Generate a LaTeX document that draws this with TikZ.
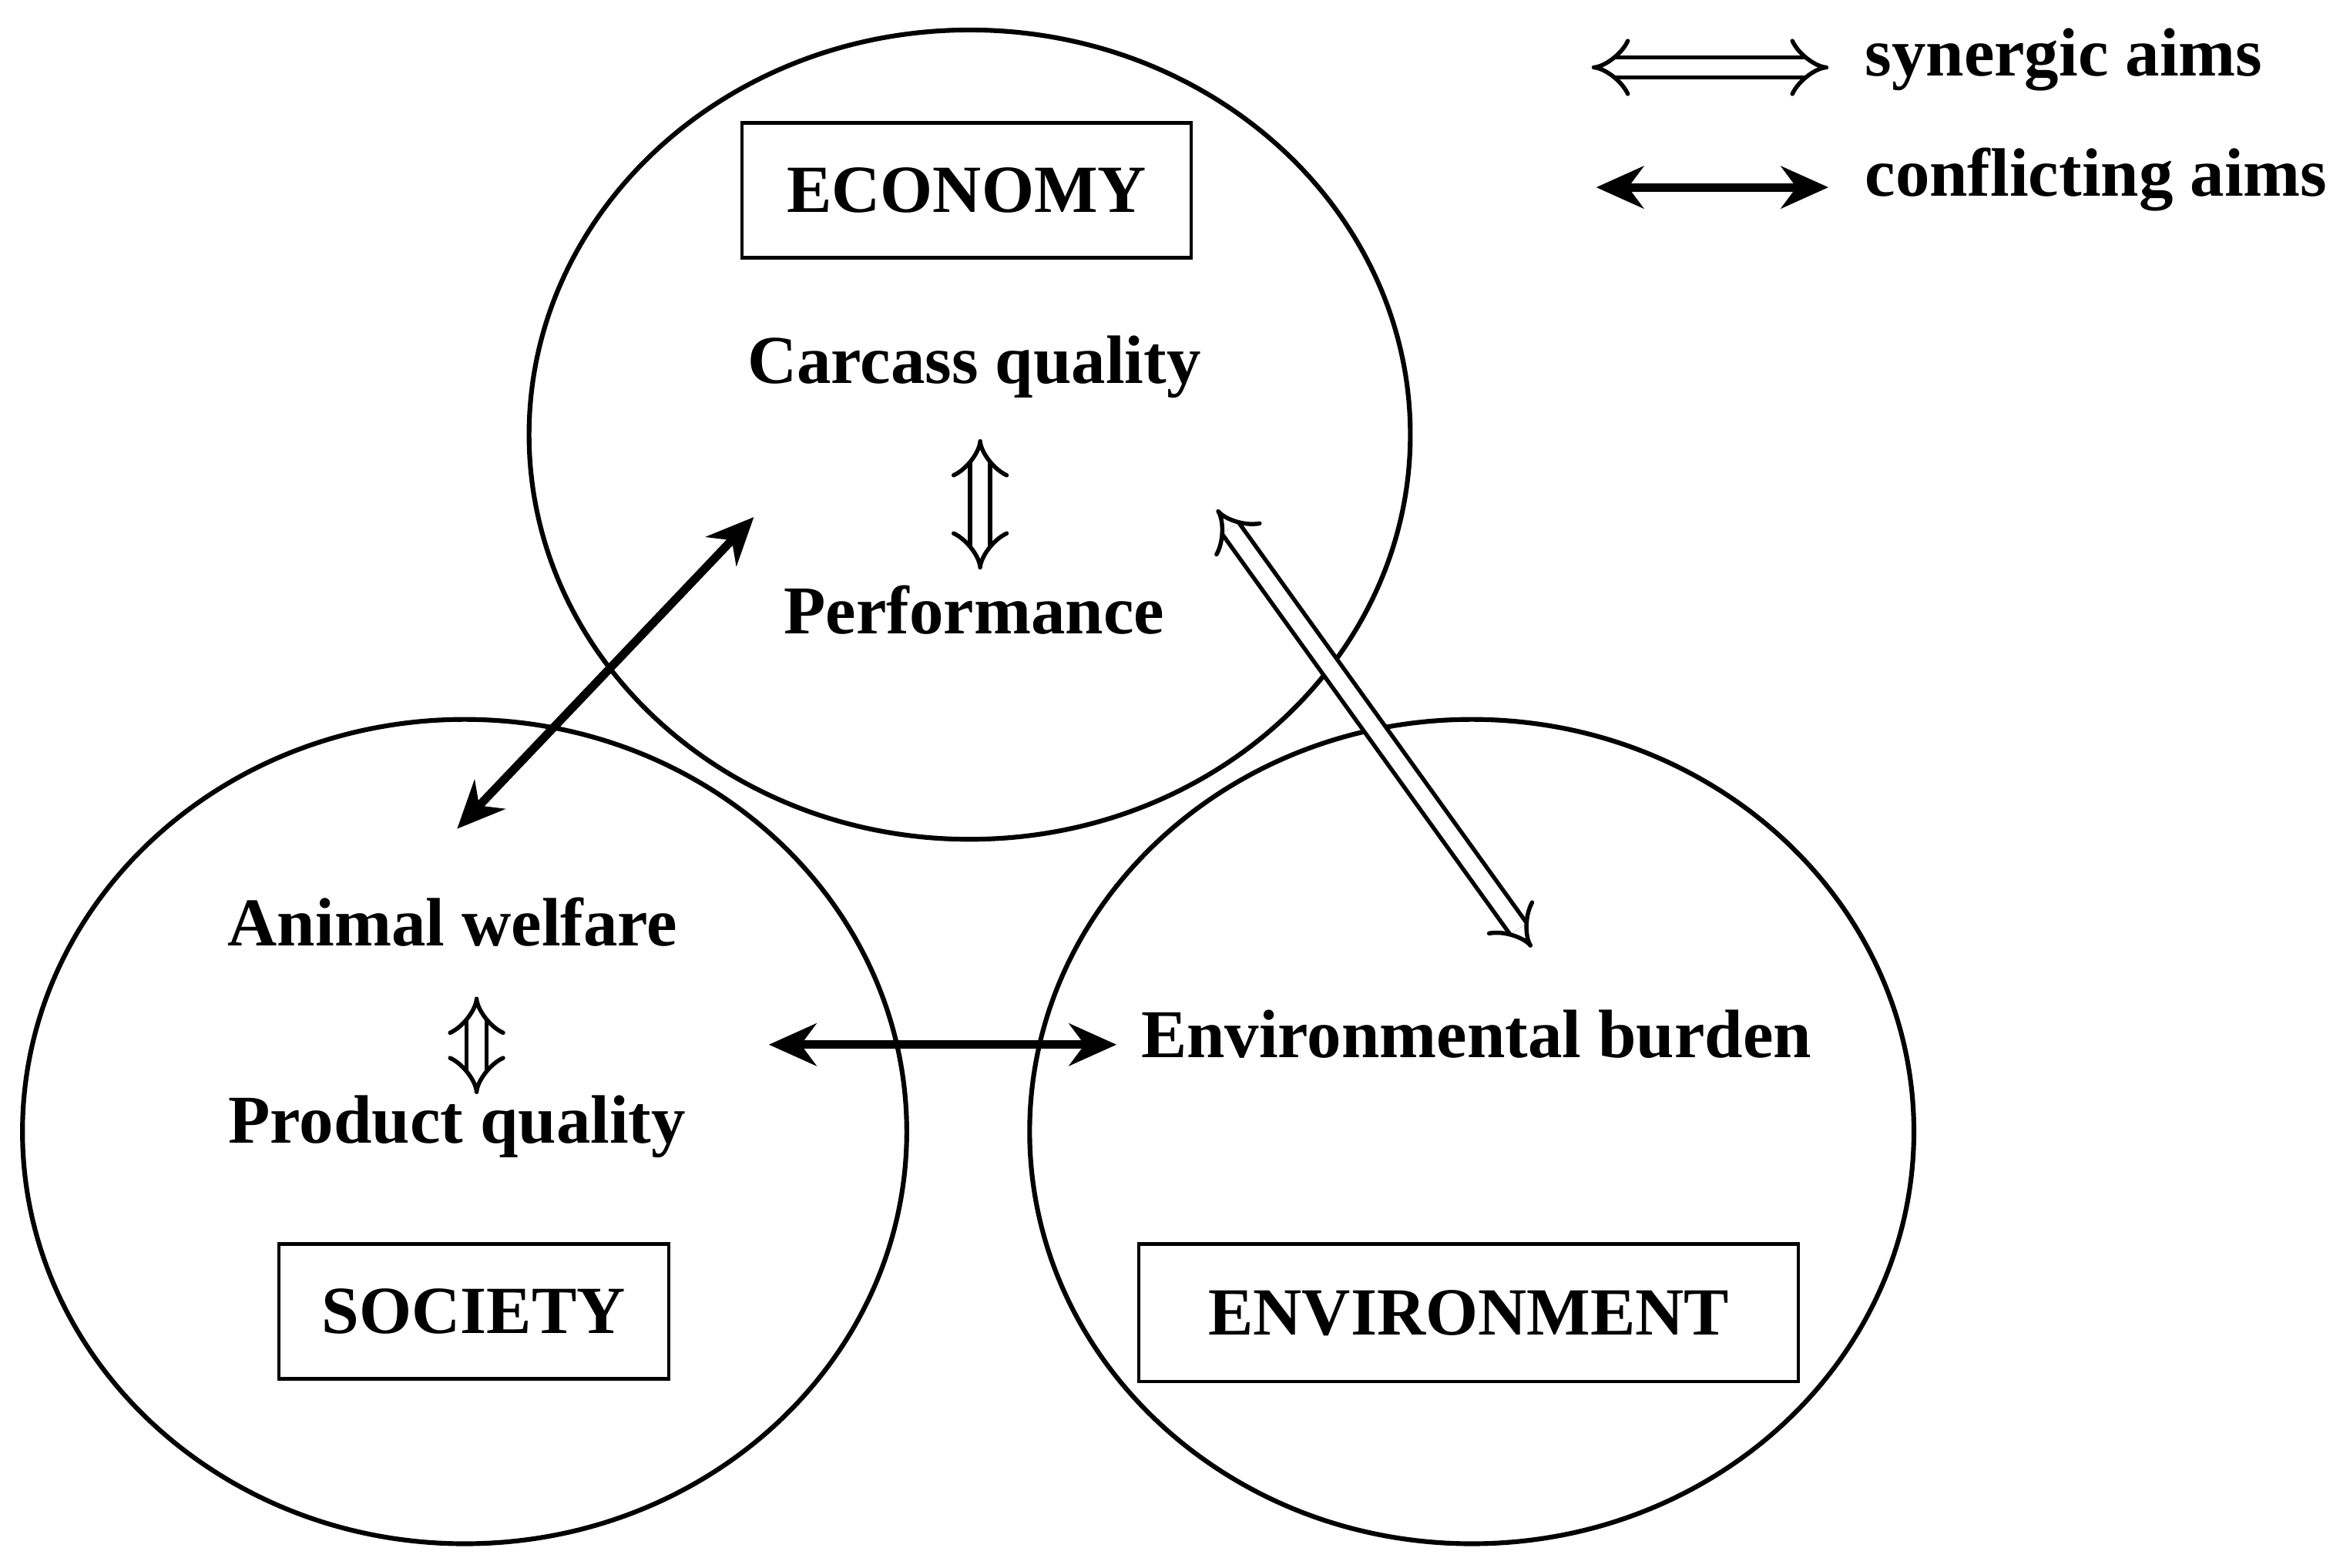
\documentclass[tikz,border=0pt]{standalone}
\usepackage{fontspec}
\setmainfont{Liberation Serif}
\usetikzlibrary{arrows.meta}
\tikzset{
  ring/.style={draw,line width=0.9pt},
  label/.style={font=\fontsize{13}{15}\selectfont\bfseries},
  titlebox/.style={draw,line width=0.6pt,font=\fontsize{12.8}{15}\selectfont\bfseries,inner sep=0pt},
  synergy/.style={double,double distance=3pt,line width=0.8pt,{Implies}-{Implies}},
  conflict/.style={line width=1.6pt,{Stealth[length=9pt,width=8pt]}-{Stealth[length=9pt,width=8pt]}}
}
\begin{document}
\begin{tikzpicture}
\useasboundingbox (0,0) rectangle (15.68,-10.46);
% circles
\draw[ring] (6.47,-2.90) ellipse (2.94 and 2.70);
\draw[ring] (3.10,-7.55) ellipse (2.95 and 2.75);
\draw[ring] (9.82,-7.55) ellipse (2.95 and 2.75);
% boxes
\node[titlebox,minimum width=3.0cm,minimum height=0.9cm] (eco) at (6.45,-1.27) {ECONOMY};
\node[titlebox,minimum width=2.6cm,minimum height=0.9cm] (soc) at (3.16,-8.75) {SOCIETY};
\node[titlebox,minimum width=4.4cm,minimum height=0.92cm] (env) at (9.80,-8.76) {ENVIRONMENT};
% aims
\node[label] (carcass) at (6.50,-2.45) {Carcass quality};
\node[label] (perf) at (6.50,-4.07) {Performance};
\node[label] (welfare) at (3.02,-6.15) {Animal welfare};
\node[label] (product) at (3.05,-7.52) {Product quality};
\node[label] (burden) at (9.85,-6.90) {Environmental burden};
% connectors
\coordinate (s1) at (6.54,-2.93); \coordinate (s2) at (6.54,-3.80);
\draw[synergy] (s1) -- (s2);
\coordinate (w1) at (3.18,-6.65); \coordinate (w2) at (3.18,-7.30);
\draw[synergy] (w1) -- (w2);
\coordinate (c1) at (5.03,-3.45); \coordinate (c2) at (3.05,-5.53);
\draw[conflict] (c1) -- (c2);
\coordinate (e1) at (8.12,-3.40); \coordinate (e2) at (10.22,-6.32);
\draw[synergy] (e1) -- (e2);
\coordinate (h1) at (5.13,-6.97); \coordinate (h2) at (7.45,-6.97);
\draw[conflict] (h1) -- (h2);
% legend
\coordinate (l1) at (10.62,-0.45); \coordinate (l2) at (12.20,-0.45);
\draw[synergy] (l1) -- (l2);
\node[label,anchor=west] (syn) at (12.32,-0.40) {synergic aims};
\coordinate (l3) at (10.65,-1.25); \coordinate (l4) at (12.20,-1.25);
\draw[conflict] (l3) -- (l4);
\node[label,anchor=west] (con) at (12.32,-1.20) {conflicting aims};
\end{tikzpicture}
\end{document}
